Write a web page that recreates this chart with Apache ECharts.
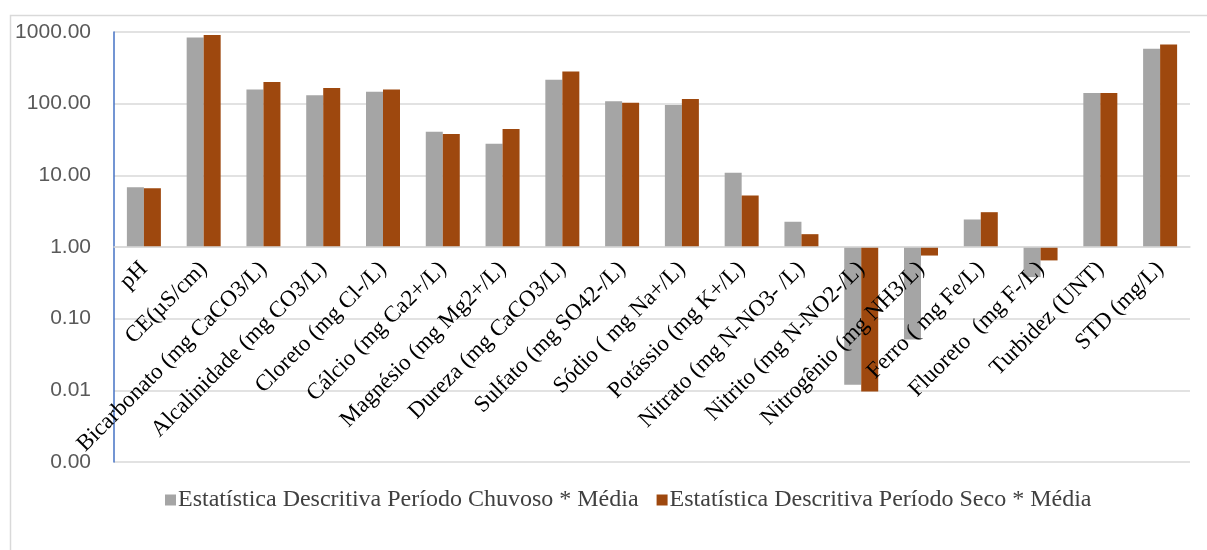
<!DOCTYPE html>
<html>
<head>
<meta charset="utf-8">
<script src="https://cdn.jsdelivr.net/npm/echarts@6/dist/echarts.min.js"></script>
<style>html,body{margin:0;padding:0;background:#fff}#c{width:1207px;height:550px}</style>
</head>
<body>
<div id="c"></div>
<script>
const categories = ['pH','CE(µS/cm)','Bicarbonato (mg CaCO3/L)','Alcalinidade (mg CO3/L)','Cloreto (mg Cl-/L)','Cálcio (mg Ca2+/L)','Magnésio (mg Mg2+/L)','Dureza (mg CaCO3/L)','Sulfato (mg SO42-/L)','Sódio ( mg Na+/L)','Potássio (mg K+/L)','Nitrato (mg N-NO3- /L)','Nitrito (mg N-NO2-/L)','Nitrogênio (mg NH3/L)','Ferro ( mg Fe/L)','Fluoreto  (mg F-/L)','Turbidez (UNT)','STD (mg/L)'];
const seriesNames = ['Estatística Descritiva Período Chuvoso * Média','Estatística Descritiva Período Seco * Média'];
const chuvoso = [6.84, 835, 158, 131, 147, 40.6, 27.6, 216, 108, 95.6, 10.9, 2.25, 0.012, 0.051, 2.42, 0.38, 141, 586];
const seco = [6.62, 908, 200, 165, 158, 37.6, 44.2, 282, 103, 116, 5.24, 1.51, 0.0096, 0.76, 3.06, 0.65, 141, 667];
const yMin = 0.001, yMax = 1000;

const chart = echarts.init(document.getElementById('c'));
chart.setOption({
  animation: false,
  backgroundColor: '#fff',
  graphic: [{
    type: 'rect', left: 8, top: 13, silent: true,
    shape: {x: 0, y: 0, width: 1300, height: 600},
    style: {fill: 'none', stroke: '#D9D9D9', lineWidth: 1.5}
  }],
  grid: {left: 114, right: 17, top: 32, height: 430},
  legend: {
    left: 160, top: 483,
    itemWidth: 11, itemHeight: 11, itemGap: 18,
    icon: 'rect',
    textStyle: {fontFamily: 'Liberation Serif', fontSize: 24, color: '#404040', padding: [0,0,0,-3]},
    data: seriesNames
  },
  xAxis: {
    type: 'category',
    data: categories,
    position: 'bottom',
    offset: -215.5,
    z: 10,
    axisLine: {show: true, lineStyle: {color: '#D9D9D9', width: 1.5}},
    axisTick: {show: false},
    axisLabel: {
      rotate: 45, interval: 0, margin: 19,
      fontFamily: 'Liberation Serif', fontSize: 23, color: '#000'
    }
  },
  yAxis: {
    type: 'log', logBase: 10, min: yMin, max: yMax,
    axisLine: {show: true, lineStyle: {color: '#4472C4', width: 1.5}},
    axisTick: {show: false},
    splitLine: {show: true, lineStyle: {color: '#D9D9D9', width: 1.5}},
    axisLabel: {
      margin: 23, fontFamily: 'Liberation Sans', fontSize: 21, color: '#595959',
      formatter: v => Number(v).toFixed(2)
    }
  },
  series: [
    {name: seriesNames[0], type: 'bar', data: chuvoso, barWidth: 17, barGap: '0%', itemStyle: {color: '#A5A5A5'}},
    {name: seriesNames[1], type: 'bar', data: seco, barWidth: 17, barGap: '0%', itemStyle: {color: '#9E480E'}}
  ]
});
</script>
</body>
</html>
